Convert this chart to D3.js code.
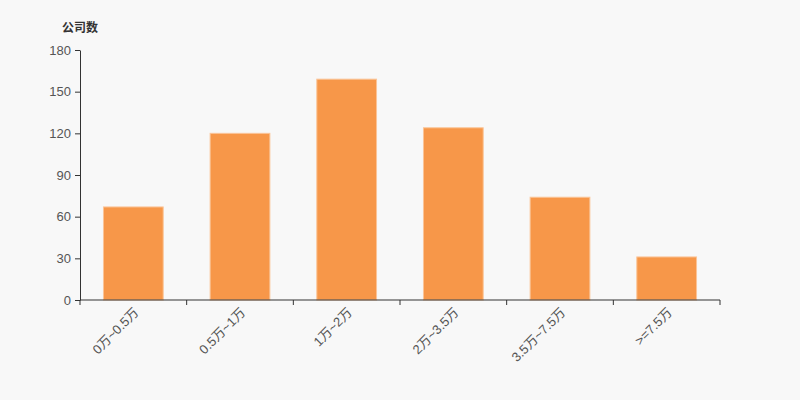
<!DOCTYPE html>
<html><head><meta charset="utf-8">
<script src="https://cdn.jsdelivr.net/npm/d3@7"></script>
<style>body{margin:0;background:#f8f8f8;}svg{display:block;}</style>
</head><body><div id="c"></div>
<script>
const categories = ["0万~0.5万","0.5万~1万","1万~2万","2万~3.5万","3.5万~7.5万",">=7.5万"];
const values = [67,120,159,124,74,31];
const yTicks = [0,30,60,90,120,150,180];
const yTitle = "公司数";

const W=800,H=400, m={l:80,r:80,t:50,b:100};
const svg=d3.select("#c").append("svg").attr("width",W).attr("height",H).style("background","#f8f8f8");
const font="'Liberation Sans', 'Noto Sans CJK SC', sans-serif";
const x=d3.scaleBand().domain(categories).range([m.l,W-m.r]).paddingInner(0.44).paddingOuter(0.22);
const xb=d3.scaleBand().domain(categories).range([m.l,W-m.r]);
const y=d3.scaleLinear().domain([0,180]).range([H-m.b,m.t]);

svg.append("g").selectAll("rect").data(values).join("rect")
  .attr("x",(d,i)=>x(categories[i])).attr("width",x.bandwidth())
  .attr("y",d=>y(d)).attr("height",d=>y(0)-y(d))
  .attr("fill","#f79749").attr("stroke","#fbc598").attr("stroke-width",1);

// y axis
const ya=svg.append("g").attr("transform",`translate(${m.l},0)`)
  .call(d3.axisLeft(y).tickValues(yTicks).tickSize(5).tickPadding(4).tickSizeOuter(0));
ya.select(".domain").attr("stroke","#333");
ya.selectAll(".tick line").attr("stroke","#333");
ya.selectAll("text").attr("fill","#555").style("font-size","13px").style("font-family",font);

// x axis
const xg=svg.append("g").attr("transform",`translate(0,${H-m.b})`);
xg.append("line").attr("x1",m.l).attr("x2",W-m.r).attr("stroke","#333");
const edges=categories.map(c=>xb(c)).concat([W-m.r]);
xg.selectAll(".tk").data(edges).join("line").attr("x1",d=>d).attr("x2",d=>d).attr("y1",0).attr("y2",5).attr("stroke","#333");
xg.selectAll("text").data(categories).join("text")
  .attr("transform",d=>`translate(${xb(d)+xb.bandwidth()/2+3},${10}) rotate(-45)`)
  .attr("text-anchor","end").attr("dy","0.35em")
  .attr("fill","#555").style("font-size","13px").style("font-family",font).text(d=>d);

svg.append("text").attr("x",62).attr("y",32).attr("fill","#333")
  .style("font-size","12px").style("font-weight","bold").style("font-family",font).text(yTitle);
</script></body></html>
